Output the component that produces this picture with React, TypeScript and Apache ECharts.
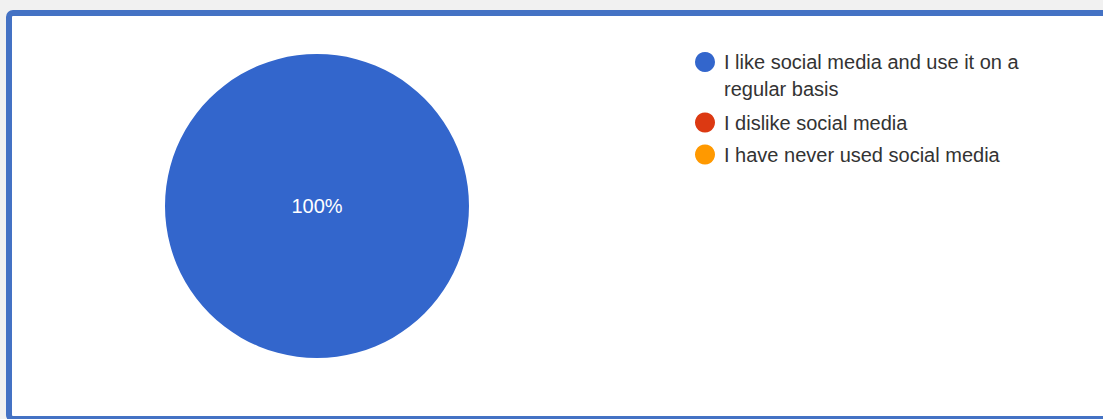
import React, { useEffect, useRef } from "react";
import * as echarts from "echarts";

const categories = [
  "I like social media and use it on a regular basis",
  "I dislike social media",
  "I have never used social media",
];
const values = [100, 0, 0];
const colors = ["#3366cc", "#dc3912", "#ff9900"];

export default function App() {
  const ref = useRef<HTMLDivElement>(null);
  useEffect(() => {
    document.body.style.margin = "0";
    const chart = echarts.init(ref.current!, null, { renderer: "svg" });
    const total = values.reduce((a, b) => a + b, 0);
    const font = "Arial, 'Liberation Sans', sans-serif";
    chart.setOption({
      animation: false,
      backgroundColor: "#f1f1f1",
      color: colors,
      graphic: [
        {
          type: "rect",
          z: -10,
          shape: { x: 9, y: 13, width: 1110, height: 406, r: 4 },
          style: { fill: "#ffffff", stroke: "#4472c4", lineWidth: 6 },
        },
      ],
      legend: [
        {
          orient: "vertical",
          left: 695,
          top: 21.5,
          padding: 0,
          icon: "circle",
          itemWidth: 20,
          itemHeight: 20,
          selectedMode: false,
          data: [categories[0]],
          formatter: () => " \nI like social media and use it on a\nregular basis",
          textStyle: {
            fontFamily: font,
            fontSize: 20,
            lineHeight: 27,
            color: "#333333",
            padding: [0, 0, 0, 4],
          },
        },
        {
          orient: "vertical",
          left: 695,
          top: 109,
          padding: 0,
          icon: "circle",
          itemWidth: 20,
          itemHeight: 20,
          itemGap: 5,
          selectedMode: false,
          data: categories.slice(1),
          textStyle: {
            fontFamily: font,
            fontSize: 20,
            lineHeight: 27,
            color: "#333333",
            padding: [0, 0, 0, 4],
          },
        },
      ],
      series: [
        {
          type: "pie",
          center: [317, 206],
          radius: [0, 152],
          startAngle: 90,
          clockwise: true,
          stillShowZeroSum: true,
          itemStyle: { borderWidth: 0 },
          label: {
            show: true,
            position: "center",
            color: "#ffffff",
            fontFamily: font,
            fontSize: 20,
            formatter: (p: any) =>
              p.value > 0 ? Math.round((p.value / total) * 100) + "%" : "",
          },
          labelLine: { show: false },
          emphasis: { disabled: true },
          data: categories.map((name, i) => ({ name, value: values[i] })),
        },
      ],
    });
    return () => chart.dispose();
  }, []);
  return (
    <div
      ref={ref}
      style={{ position: "absolute", left: 0, top: 0, width: 1103, height: 419 }}
    />
  );
}
